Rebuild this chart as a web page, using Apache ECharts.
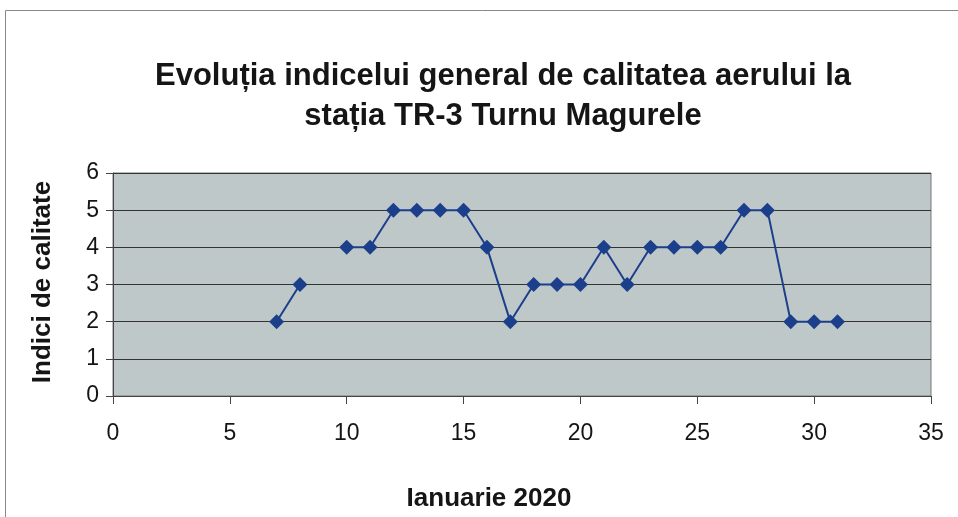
<!DOCTYPE html>
<html>
<head>
<meta charset="utf-8">
<script src="https://cdn.jsdelivr.net/npm/echarts@6/dist/echarts.min.js"></script>
<style>html,body{margin:0;padding:0;background:#fff}#c{width:958px;height:517px}</style>
</head>
<body>
<div id="c"></div>
<script>
var titleText = "Evoluția indicelui general de calitatea aerului la\nstația TR-3 Turnu Magurele";
var xAxisName = "Ianuarie 2020";
var yAxisName = "Indici de calitate";
var days = [7, 8, 9, 10, 11, 12, 13, 14, 15, 16, 17, 18, 19, 20, 21, 22, 23, 24, 25, 26, 27, 28, 29, 30, 31];
var values = [2, 3, null, 4, 4, 5, 5, 5, 5, 4, 2, 3, 3, 3, 4, 3, 4, 4, 4, 4, 5, 5, 2, 2, 2];

var seriesData = days.map(function (d, i) { return [d, values[i] === null ? '-' : values[i]]; });

var chart = echarts.init(document.getElementById('c'), null, {renderer: 'canvas'});
var font = 'Liberation Sans, Arial, sans-serif';
chart.setOption({
  animation: false,
  backgroundColor: '#ffffff',
  title: {
    text: titleText,
    left: 498, top: 51, textAlign: 'center',
    textStyle: {fontFamily: font, fontSize: 31, fontWeight: 'bold', color: '#151515', lineHeight: 40}
  },
  graphic: [{
    type: 'rect', shape: {x: 5.5, y: 10.5, width: 1000, height: 600},
    style: {fill: 'none', stroke: '#888', lineWidth: 1}, silent: true, z: -1
  }, {
    type: 'text', x: 489, y: 499,
    style: {text: xAxisName, font: 'bold 26px ' + font, fill: '#151515', textAlign: 'center', textVerticalAlign: 'middle'}
  }, {
    type: 'text', x: 43, y: 282, rotation: Math.PI / 2,
    style: {text: yAxisName, font: 'bold 26px ' + font, fill: '#151515', textAlign: 'center', textVerticalAlign: 'middle'}
  }],
  grid: {left: 113, right: 27, top: 173, bottom: 121, show: true, backgroundColor: '#bfc8c8', borderColor: '#777', borderWidth: 1},
  xAxis: {
    type: 'value', min: 0, max: 35, interval: 5,
    axisLine: {show: true, onZero: false, lineStyle: {color: '#444', width: 1}},
    axisTick: {show: true, length: 8, lineStyle: {color: '#444'}},
    axisLabel: {fontFamily: font, fontSize: 23, color: '#151515', margin: 26},
    splitLine: {show: false}
  },
  yAxis: {
    type: 'value', min: 0, max: 6, interval: 1,
    axisLine: {show: true, lineStyle: {color: '#444', width: 1}},
    axisTick: {show: true, length: 7, lineStyle: {color: '#444'}},
    axisLabel: {fontFamily: font, fontSize: 23, color: '#151515', margin: 14},
    splitLine: {show: true, lineStyle: {color: '#333', width: 1}}
  },
  series: [{
    type: 'line',
    data: seriesData,
    connectNulls: false,
    symbol: 'diamond', symbolSize: 15,
    lineStyle: {color: '#1c3f8c', width: 2},
    itemStyle: {color: '#1c3f8c'}
  }]
});
</script>
</body>
</html>
